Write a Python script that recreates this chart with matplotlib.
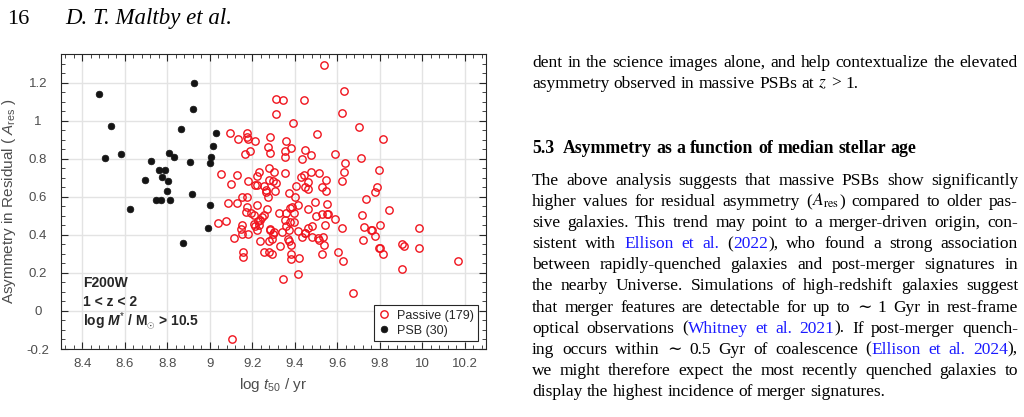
import re

import matplotlib

matplotlib.use("Agg")
import matplotlib.pyplot as plt
from matplotlib.ticker import AutoMinorLocator, FuncFormatter, MultipleLocator
from matplotlib.transforms import IdentityTransform

# ---- data ----
passive_t50 = [
    9.538, 9.634, 9.314, 9.345, 9.444, 9.314, 9.623, 9.394, 9.701, 9.507,
    9.816, 9.097, 9.177, 9.177, 9.180, 9.133, 9.215, 9.282, 9.358, 9.273,
    9.381, 9.166, 9.188, 9.285, 9.355, 9.355, 9.447, 9.436, 9.475, 9.591,
    9.712, 9.637, 9.798, 9.052, 9.127, 9.179, 9.232, 9.221, 9.281, 9.304,
    9.353, 9.281, 9.296, 9.314, 9.099, 9.212, 9.220, 9.254, 9.265, 9.267,
    9.275, 9.306, 9.406, 9.431, 9.442, 9.475, 9.516, 9.464, 9.447, 9.464,
    9.527, 9.546, 9.546, 9.623, 9.631, 9.786, 9.778, 9.734, 9.152, 9.177,
    9.373, 9.403, 9.088, 9.127, 9.177, 9.220, 9.169, 9.194, 9.207, 9.253,
    9.246, 9.238, 9.271, 9.325, 9.358, 9.376, 9.386, 9.397, 9.416, 9.464,
    9.494, 9.551, 9.502, 9.527, 9.551, 9.558, 9.591, 9.715, 9.844, 9.041,
    9.078, 9.154, 9.146, 9.152, 9.180, 9.207, 9.215, 9.223, 9.234, 9.229,
    9.282, 9.285, 9.304, 9.296, 9.340, 9.356, 9.358, 9.376, 9.397, 9.372,
    9.416, 9.449, 9.464, 9.483, 9.544, 9.623, 9.727, 9.761, 9.802, 9.780,
    9.987, 9.115, 9.238, 9.278, 9.293, 9.329, 9.369, 9.373, 9.380, 9.436,
    9.447, 9.480, 9.510, 9.514, 9.533, 9.538, 9.720, 9.907, 9.915, 9.800,
    9.987, 9.158, 9.158, 9.253, 9.281, 9.293, 9.384, 9.384, 9.420, 9.414,
    9.347, 9.527, 9.605, 9.626, 9.674, 9.814, 9.907, 10.166, 9.107, 9.797,
    9.764,
]
passive_ares = [
    1.291, 1.153, 1.114, 1.107, 1.106, 1.036, 1.039, 0.989, 0.966, 0.929,
    0.905, 0.934, 0.936, 0.912, 0.905, 0.905, 0.894, 0.915, 0.891, 0.859,
    0.856, 0.824, 0.838, 0.828, 0.842, 0.807, 0.845, 0.796, 0.819, 0.823,
    0.803, 0.775, 0.741, 0.721, 0.713, 0.685, 0.730, 0.709, 0.749, 0.728,
    0.725, 0.690, 0.685, 0.672, 0.667, 0.660, 0.660, 0.657, 0.636, 0.624,
    0.601, 0.632, 0.655, 0.706, 0.713, 0.732, 0.727, 0.679, 0.650, 0.643,
    0.653, 0.686, 0.630, 0.685, 0.730, 0.650, 0.624, 0.590, 0.601, 0.601,
    0.620, 0.601, 0.569, 0.569, 0.547, 0.555, 0.520, 0.517, 0.503, 0.506,
    0.496, 0.478, 0.534, 0.517, 0.517, 0.540, 0.545, 0.517, 0.557, 0.533,
    0.575, 0.561, 0.501, 0.508, 0.508, 0.508, 0.485, 0.503, 0.529, 0.461,
    0.475, 0.452, 0.430, 0.403, 0.403, 0.459, 0.447, 0.426, 0.449, 0.475,
    0.431, 0.426, 0.417, 0.405, 0.417, 0.478, 0.445, 0.465, 0.465, 0.424,
    0.422, 0.410, 0.437, 0.445, 0.452, 0.437, 0.442, 0.426, 0.454, 0.395,
    0.437, 0.381, 0.370, 0.367, 0.377, 0.342, 0.377, 0.365, 0.347, 0.386,
    0.407, 0.386, 0.381, 0.374, 0.389, 0.347, 0.372, 0.354, 0.342, 0.332,
    0.332, 0.309, 0.281, 0.309, 0.309, 0.299, 0.300, 0.272, 0.280, 0.195,
    0.166, 0.298, 0.310, 0.260, 0.095, 0.300, 0.218, 0.260, -0.150, 0.330,
    0.424,
]
psb_t50 = [
    8.478, 8.534, 8.508, 8.581, 8.626, 8.697, 8.723, 8.760, 8.773, 8.791,
    8.802, 8.746, 8.770, 8.797, 8.815, 8.807, 8.830, 8.863, 8.908, 8.918,
    8.920, 8.924, 9.003, 9.005, 9.001, 9.013, 9.028, 8.994, 8.876,
]
psb_ares = [
    1.138, 0.970, 0.803, 0.827, 0.536, 0.686, 0.789, 0.743, 0.705, 0.740,
    0.682, 0.584, 0.584, 0.630, 0.581, 0.830, 0.810, 0.954, 0.780, 0.612,
    1.061, 1.200, 0.557, 0.810, 0.775, 0.869, 0.934, 0.438, 0.359,
]

header_page = "16"
header_authors = "D. T. Maltby et al."
heading = "5.3  Asymmetry as a function of median stellar age"
# [ ... ] marks blue link text, $ ... $ is math (no spaces inside math)
para_top = [
    ("dent in the science images alone, and help contextualize the elevated", True),
    ("asymmetry observed in massive PSBs at $z$ > 1.", False),
]
para_main = [
    ("The above analysis suggests that massive PSBs show significantly", True),
    (r"higher values for residual asymmetry ($A_{\mathrm{res}}$) compared to older pas-", True),
    ("sive galaxies. This trend may point to a merger-driven origin, con-", True),
    ("sistent with [Ellison et al.] ([2022]), who found a strong association", True),
    ("between rapidly-quenched galaxies and post-merger signatures in", True),
    ("the nearby Universe. Simulations of high-redshift galaxies suggest", True),
    ("that merger features are detectable for up to \u223c 1 Gyr in rest-frame", True),
    ("optical observations ([Whitney et al. 2021]). If post-merger quench-", True),
    ("ing occurs within \u223c 0.5 Gyr of coalescence ([Ellison et al. 2024]),", True),
    ("we might therefore expect the most recently quenched galaxies to", True),
    ("display the highest incidence of merger signatures.", False),
]

W, H = 1024, 417
GREY = "#4d4d4d"
DARK = "#262626"
LINK = "#1a1aff"

plt.rcParams["font.family"] = ["Liberation Sans", "DejaVu Sans"]
plt.rcParams["mathtext.fontset"] = "custom"
plt.rcParams["mathtext.rm"] = "Liberation Sans"
plt.rcParams["mathtext.it"] = "Liberation Sans:italic"
plt.rcParams["mathtext.bf"] = "Liberation Sans:bold"
plt.rcParams["mathtext.bfit"] = "Liberation Sans:bold:italic"
plt.rcParams["axes.unicode_minus"] = False

fig = plt.figure(figsize=(W / 100, H / 100), dpi=100)
ax = fig.add_axes([61 / W, 1 - 349 / H, 425 / W, 295 / H])

ax.plot(passive_t50, passive_ares, "o", ms=5.3, mfc="none", mec="#f0141e", mew=1.0,
        label="Passive (179)", zorder=3)
ax.plot(psb_t50, psb_ares, "o", ms=4.8, mfc="#141414", mec="#141414", mew=0.5,
        label="PSB (30)", zorder=4)

ax.set_xlim(8.3, 10.3)
ax.set_ylim(-0.2, 1.35)
ax.xaxis.set_major_locator(MultipleLocator(0.2))
ax.xaxis.set_minor_locator(AutoMinorLocator(5))
ax.yaxis.set_major_locator(MultipleLocator(0.2))
ax.yaxis.set_minor_locator(AutoMinorLocator(4))


def fmt(v, _):
    s = f"{round(v, 2):g}"
    return "0" if s == "-0" else s


ax.xaxis.set_major_formatter(FuncFormatter(fmt))
ax.yaxis.set_major_formatter(FuncFormatter(fmt))
ax.tick_params(which="both", direction="in", top=True, right=True, color=DARK,
               labelcolor=GREY, labelsize=9.5)
ax.tick_params(which="major", length=5, width=0.8)
ax.tick_params(which="minor", length=3, width=0.6)
ax.tick_params(axis="x", pad=6.5)
ax.tick_params(axis="y", pad=16.5)
plt.setp(ax.get_yticklabels(), ha="center")
for sp in ax.spines.values():
    sp.set_color(DARK)
    sp.set_linewidth(0.8)
ax.grid(True, which="major", color="#e3e3e3", lw=1)
ax.set_axisbelow(True)

ax.set_xlabel("log $t_{50}$ / yr", fontsize=11, color=GREY)
ax.xaxis.set_label_coords(0.5, -0.09)
ax.set_ylabel(r"Asymmetry in Residual ( $A_{\rm res}$ )", fontsize=11, color=GREY)
ax.yaxis.set_label_coords(-0.1, 0.5)

ax.text(0.052, 0.224, "F200W", transform=ax.transAxes, fontsize=10,
        fontweight="bold", color=DARK, va="center")
ax.text(0.052, 0.159, "1 < z < 2", transform=ax.transAxes, fontsize=10,
        fontweight="bold", color=DARK, va="center")
ax.text(0.052, 0.095, r"log $\mathbfit{M}^{*}$ / M$_{\odot}$ > 10.5",
        transform=ax.transAxes, fontsize=10, fontweight="bold", color=DARK,
        va="center")

leg = ax.legend(loc="lower right", bbox_to_anchor=(0.981, 0.027), borderaxespad=0,
                fancybox=False, edgecolor=DARK, framealpha=1, fontsize=9,
                handlelength=1.0, handletextpad=0.5, borderpad=0.35,
                labelspacing=0.25)
leg.get_frame().set_linewidth(0.8)
for t in leg.get_texts():
    t.set_color(DARK)

# ---- page text around the figure ----
pix = IdentityTransform()
SERIF = ["Liberation Serif", "DejaVu Serif"]
fig.text(7, H - 24, header_page, transform=pix, family=SERIF,
         fontsize=16, va="baseline")
fig.text(65, H - 24, header_authors, transform=pix, family=SERIF,
         style="italic", fontsize=16.5, va="baseline")

renderer = fig.canvas.get_renderer()
COL_X, COL_W = 532, 486
BODY_SIZE = 12.5


def body_line(text, y, justify, blue=False, weight="normal", size=BODY_SIZE):
    tokens = []
    for word in text.split(" "):
        pieces = []
        for part in re.split(r"(\[|\]|\$[^$]*\$)", word):
            if part == "[":
                blue = True
            elif part == "]":
                blue = False
            elif part:
                t = fig.text(0, H - y, part, transform=pix, va="baseline",
                             family=SERIF, fontsize=size,
                             fontweight=weight, color=LINK if blue else "black",
                             math_fontfamily="stix")
                pieces.append((t, t.get_window_extent(renderer).width))
        tokens.append(pieces)
    total = sum(w for tok in tokens for _, w in tok)
    space = size * 100 / 72 * 0.25
    if justify and len(tokens) > 1:
        space = (COL_W - total) / (len(tokens) - 1)
    x = COL_X
    for tok in tokens:
        for t, w in tok:
            t.set_x(x)
            x += w
        x += space
    return blue


for i, (line, just) in enumerate(para_top):
    body_line(line, 67 + 20.8 * i, just)
body_line(heading, 153, False, weight="bold", size=12.8)
state = False
for i, (line, just) in enumerate(para_main):
    state = body_line(line, 185 + 21.1 * i, just, state)

fig.savefig("out.png", dpi=100)
